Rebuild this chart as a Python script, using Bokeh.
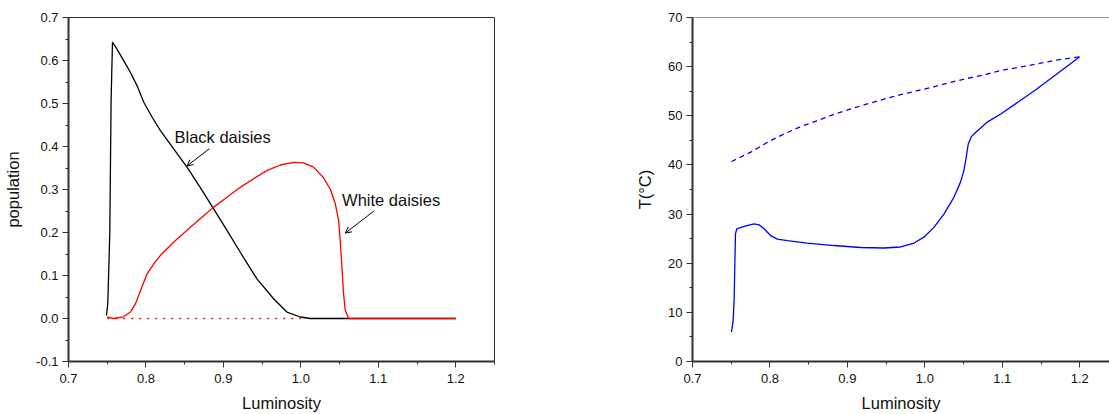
from bokeh.plotting import figure
from bokeh.layouts import row
from bokeh.models import (Range1d, FixedTicker, NumeralTickFormatter, Arrow, OpenHead,
                          Span, ColumnDataSource)
from bokeh.core.properties import value
from bokeh.embed import file_html
from bokeh.resources import INLINE

# ---- data: left panel (population vs luminosity) ----
black_L = [0.749, 0.7507, 0.7533, 0.755, 0.7568, 0.7628, 0.7714, 0.780, 0.7886, 0.7972,
           0.808, 0.8187, 0.836, 0.853, 0.870, 0.8874, 0.9046, 0.9218, 0.9433, 0.9648,
           0.982, 0.9992, 1.012, 1.05, 1.1, 1.2]
black_pop = [0.007, 0.034, 0.197, 0.507, 0.643, 0.626, 0.599, 0.572, 0.541, 0.503,
             0.468, 0.437, 0.394, 0.352, 0.305, 0.255, 0.205, 0.154, 0.092, 0.046,
             0.015, 0.0035, 0.0, 0.0, 0.0, 0.0]

white_L = [0.750, 0.7585, 0.771, 0.780, 0.7864, 0.793, 0.8015, 0.810, 0.8187, 0.836,
           0.853, 0.870, 0.8874, 0.9046, 0.9218, 0.939, 0.956, 0.9734, 0.9906, 1.0035,
           1.0164, 1.029, 1.038, 1.0444, 1.0487, 1.0508, 1.053, 1.0551, 1.0573, 1.0616,
           1.1, 1.2]
white_pop = [0.004, 0.0, 0.004, 0.015, 0.034, 0.065, 0.104, 0.127, 0.147, 0.178,
             0.205, 0.232, 0.259, 0.282, 0.305, 0.325, 0.344, 0.357, 0.363, 0.362,
             0.352, 0.328, 0.301, 0.267, 0.228, 0.181, 0.120, 0.058, 0.019, 0.0,
             0.0, 0.0]

unstable_L = [0.75, 1.0]
unstable_pop = [0.0, 0.0]

# ---- data: right panel (temperature vs luminosity) ----
temp_L = [0.7503, 0.7525, 0.7537, 0.7546, 0.7555, 0.7572, 0.7666, 0.7795, 0.786, 0.7924,
          0.801, 0.8096, 0.8225, 0.848, 0.8827, 0.917, 0.947, 0.9687, 0.986, 0.9988,
          1.0117, 1.0246, 1.0375, 1.046, 1.0503, 1.0533, 1.056, 1.0598, 1.0654, 1.0804,
          1.0976, 1.1432, 1.2]
temp_T = [6.0, 8.3, 12.4, 19.2, 26.0, 27.0, 27.5, 28.0, 27.8, 27.0,
          25.6, 24.9, 24.6, 24.1, 23.6, 23.2, 23.1, 23.3, 24.1, 25.3,
          27.3, 30.0, 33.4, 36.5, 38.8, 41.5, 44.2, 45.7, 46.6, 48.7,
          50.3, 55.3, 62.0]

bare_L = [0.7503, 0.7752, 0.7967, 0.8182, 0.8397, 0.8612, 0.8827, 0.9042, 0.9257, 0.9472,
          0.9687, 0.9902, 1.0117, 1.0332, 1.0546, 1.0761, 1.0976, 1.119, 1.1432, 1.1647,
          1.1862, 1.2]
bare_T = [40.7, 42.6, 44.6, 46.3, 47.8, 49.0, 50.3, 51.4, 52.4, 53.4,
          54.3, 55.1, 55.9, 56.8, 57.6, 58.3, 59.2, 59.8, 60.5, 61.2,
          61.7, 62.0]

x_ticks = [0.7, 0.8, 0.9, 1.0, 1.1, 1.2]
x_minor = [0.75, 0.85, 0.95, 1.05, 1.15, 1.25]
pop_ticks = [-0.1, 0.0, 0.1, 0.2, 0.3, 0.4, 0.5, 0.6, 0.7]
pop_minor = [-0.05, 0.05, 0.15, 0.25, 0.35, 0.45, 0.55, 0.65]
T_ticks = [0, 10, 20, 30, 40, 50, 60, 70]
T_minor = [5, 15, 25, 35, 45, 55, 65]

labels = ["Black daisies", "White daisies"]

FONT = "Liberation Sans"
AX = "#303030"


def style(p, xt, xm, yt, ym, yfmt, ylabel):
    p.xaxis.ticker = FixedTicker(ticks=xt, minor_ticks=xm)
    p.yaxis.ticker = FixedTicker(ticks=yt, minor_ticks=ym)
    p.xaxis.formatter = NumeralTickFormatter(format="0.0")
    p.yaxis.formatter = NumeralTickFormatter(format=yfmt)
    p.xaxis.axis_label = "Luminosity"
    p.yaxis.axis_label = ylabel
    for ax in (p.xaxis[0], p.yaxis[0]):
        ax.axis_line_color = AX
        ax.axis_line_width = 2
        ax.major_tick_line_color = AX
        ax.minor_tick_line_color = AX
        ax.major_tick_out = 6
        ax.major_tick_in = 0
        ax.minor_tick_out = 3
        ax.minor_tick_in = 0
        ax.major_label_text_font = FONT
        ax.major_label_text_font_size = "13px"
        ax.major_label_text_color = "#111111"
        ax.axis_label_text_font = FONT
        ax.axis_label_text_font_size = "16.5px"
        ax.axis_label_text_font_style = "normal"
        ax.axis_label_text_color = "#111111"
    p.xaxis.major_label_standoff = 6
    p.yaxis.major_label_standoff = 4
    p.xaxis.axis_label_standoff = 8
    p.yaxis.axis_label_standoff = 11
    p.xgrid.visible = False
    p.ygrid.visible = False
    p.background_fill_color = "white"
    p.border_fill_color = "white"


# ---- left figure ----
p1 = figure(width=600, height=414, output_backend="svg", toolbar_location=None,
            x_range=Range1d(0.7, 1.25), y_range=Range1d(-0.1, 0.7),
            min_border_left=68, min_border_right=106, min_border_top=17, min_border_bottom=53)
p1.frame_width = 426
p1.frame_height = 344
style(p1, x_ticks, x_minor, pop_ticks, pop_minor, "0.0", "population")
p1.outline_line_color = AX
p1.outline_line_width = 1
p1.outline_line_alpha = 1

p1.line(unstable_L, unstable_pop, line_color="red", line_width=1.3, line_dash="2 6")
p1.line(black_L, black_pop, line_color="black", line_width=1.3)
p1.line(white_L, white_pop, line_color="red", line_width=1.3)

lbl_src = ColumnDataSource(dict(x=[0.8368, 1.0532], y=[0.4226, 0.276], t=labels))
p1.text(x="x", y="y", text="t", source=lbl_src, text_font=value(FONT),
        text_font_size="16.5px", text_baseline="middle", text_align="left", text_color="#111111")
p1.add_layout(Arrow(end=OpenHead(size=6, line_color="black", line_width=1),
                    x_start=0.882, y_start=0.395, x_end=0.853, y_end=0.355,
                    line_color="black", line_width=1))
p1.add_layout(Arrow(end=OpenHead(size=6, line_color="black", line_width=1),
                    x_start=1.0948, y_start=0.2505, x_end=1.0574, y_end=0.1986,
                    line_color="black", line_width=1))

# ---- right figure ----
p2 = figure(width=509, height=414, output_backend="svg", toolbar_location=None,
            x_range=Range1d(0.7, 1.2384), y_range=Range1d(0, 70),
            min_border_left=92, min_border_right=0, min_border_top=17, min_border_bottom=53)
p2.frame_width = 417
p2.frame_height = 344
style(p2, x_ticks, x_minor, T_ticks, T_minor, "0", "T(°C)")
p2.outline_line_color = None
p2.add_layout(Span(location=70, dimension="width", line_color=AX, line_width=1))

p2.line(bare_L, bare_T, line_color="blue", line_width=1.3, line_dash="5 4")
p2.line(temp_L, temp_T, line_color="blue", line_width=1.3)

layout = row(p1, p2)
layout.spacing = 0
open("out.html", "w").write(file_html(layout, INLINE))
